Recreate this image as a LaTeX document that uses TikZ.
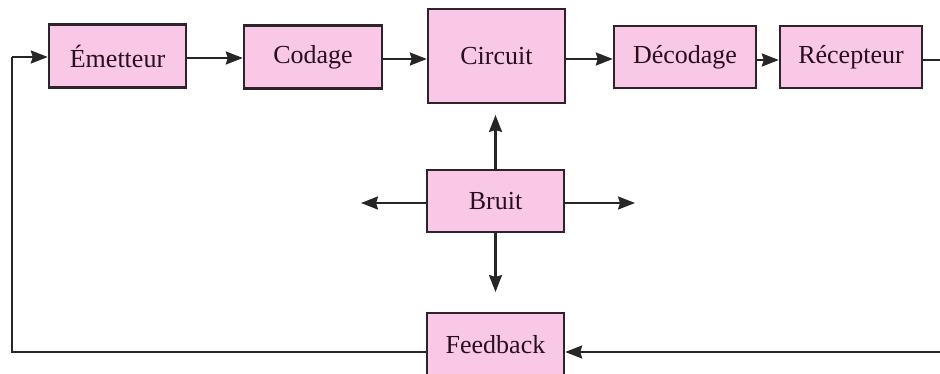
\documentclass[tikz,border=0pt]{standalone}
\usepackage{fontspec}
\setmainfont{Liberation Serif}
\usetikzlibrary{arrows.meta}
\definecolor{boxpink}{RGB}{249,200,230}
\definecolor{boxline}{RGB}{45,35,40}
\definecolor{txt}{RGB}{40,15,30}
\tikzset{
  blk/.style={draw=boxline,fill=boxpink,line width=2.4pt,minimum width=137pt,minimum height=63pt,inner sep=0pt,font=\fontsize{26}{30}\selectfont,text=txt},
  conn/.style={draw=black!85,line width=2.2pt},
  arr/.style={conn,-{Stealth[length=17pt,width=13pt,inset=2pt]}}
}
\begin{document}
\begin{tikzpicture}[x=1pt,y=-1pt]
\useasboundingbox (0,0) rectangle (940,374);
\clip (0,0) rectangle (940,374);
\node[blk] (em) at (117.5,56) {Émetteur};
\node[blk,minimum width=138pt] (co) at (313,57) {Codage};
\node[blk,minimum height=94pt] (ci) at (496.5,56) {Circuit};
\node[blk,minimum width=142pt,minimum height=62pt] (de) at (685,57) {Décodage};
\node[blk,minimum width=142pt,minimum height=62pt] (re) at (851,57) {Récepteur};
\node[blk,minimum height=62pt] (br) at (495.5,201) {Bruit};
\node[blk,minimum height=64pt] (fb) at (495.5,345) {Feedback};
\coordinate (bl) at (361,203);
\coordinate (brr) at (635,203);
\coordinate (bd) at (495.5,292);
\coordinate (bu) at (495.5,115);
\coordinate (ll) at (12,352);
\coordinate (lu) at (12,57);
\coordinate (rr) at (960,57);
\coordinate (rd) at (960,352);
\draw[arr] (em.east |- 0,58) -- (co.west |- 0,58);
\draw[arr] (co.east |- 0,59) -- (ci.west |- 0,59);
\draw[arr] (ci.east |- 0,59) -- (de.west |- 0,59);
\draw[arr] (de.east |- 0,60) -- (re.west |- 0,60);
\draw[conn] (re.east |- 0,60) -- (rr |- 0,60) -- (rd);
\draw[arr] (rd) -- (fb.east |- rd);
\draw[conn] (fb.west |- ll) -- (ll) -- (lu);
\draw[arr] (lu) -- (em.west |- lu);
\draw[arr] (br.north) -- (bu);
\draw[arr] (br.south) -- (bd);
\draw[arr] (br.west |- bl) -- (bl);
\draw[arr] (br.east |- brr) -- (brr);
\end{tikzpicture}
\end{document}
